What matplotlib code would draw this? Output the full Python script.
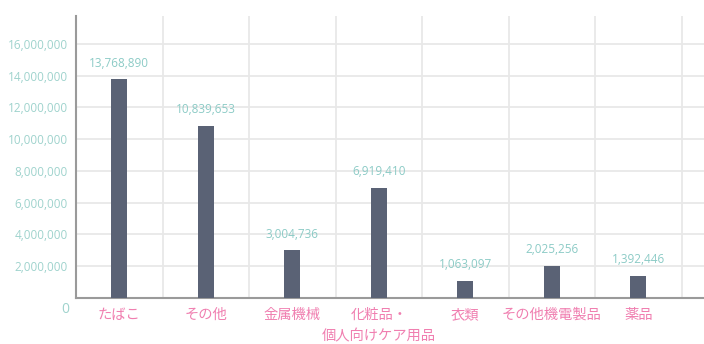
import matplotlib
matplotlib.use("Agg")
import matplotlib.pyplot as plt
from matplotlib.ticker import FuncFormatter

categories = ["たばこ", "その他", "金属機械", "化粧品・\n個人向けケア用品", "衣類", "その他機電製品", "薬品"]
values = [13768890, 10839653, 3004736, 6919410, 1063097, 2025256, 1392446]
yticks = [2000000, 4000000, 6000000, 8000000, 10000000, 12000000, 14000000, 16000000]

plt.rcParams['font.family'] = ['Open Sans', 'Noto Sans CJK JP', 'DejaVu Sans']

fig = plt.figure(figsize=(7.04, 3.44), dpi=100)
ax = fig.add_axes([76/704, 1 - 298/344, (704 - 76)/704, (298 - 16)/344])

x = list(range(len(categories)))
ax.bar(x, values, width=0.19, color="#5a6275", zorder=3)

for xi, v in zip(x, values):
    ax.annotate(f"{v:,}", (xi, v), xytext=(0, 7), textcoords="offset points",
                ha="center", va="bottom", fontsize=8.5, color="#8ccbc6", zorder=4)

ax.set_ylim(0, 17760000)
ax.set_xlim(-0.5, 6.76)
ax.set_yticks(yticks)
ax.yaxis.set_major_formatter(FuncFormatter(lambda v, p: f"{int(v):,}"))
ax.tick_params(axis="y", length=0, pad=6, labelsize=8.5, labelcolor="#9fd3cd")
ax.text(-0.010, -0.04, "0", transform=ax.transAxes, ha="right", va="center",
        fontsize=10, color="#9fd3cd")

ax.set_xticks(x)
ax.set_xticklabels(categories, fontsize=10.3, color="#f07fb0",
                   family=['Noto Sans CJK JP', 'DejaVu Sans'], linespacing=1.7)
ax.tick_params(axis="x", length=0, pad=7)

# vertical gridlines at category boundaries
for b in [0.5 + i for i in range(7)]:
    ax.axvline(b, color="#e8e8e8", lw=1.3, zorder=1)
ax.yaxis.grid(True, color="#e8e8e8", lw=1.3, zorder=1)
ax.set_axisbelow(True)

for s in ["top", "right"]:
    ax.spines[s].set_visible(False)
ax.spines["left"].set_color("#9a9a9a")
ax.spines["left"].set_linewidth(1.5)
ax.spines["bottom"].set_color("#9a9a9a")
ax.spines["bottom"].set_linewidth(1.5)

fig.savefig("out.png", dpi=100)
